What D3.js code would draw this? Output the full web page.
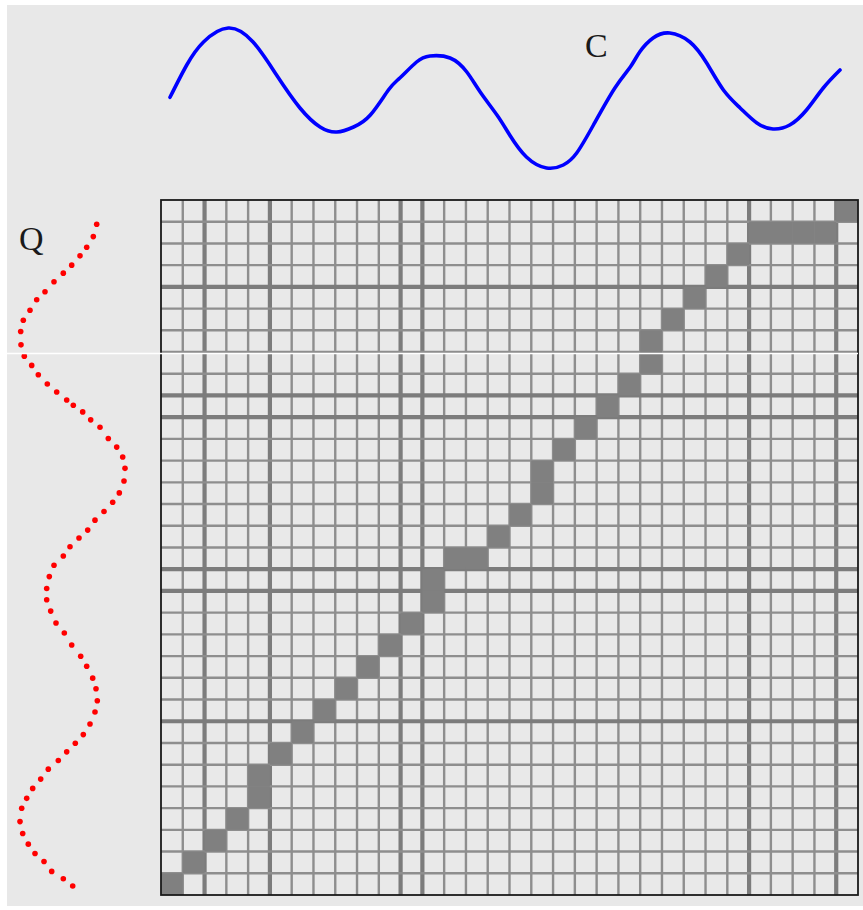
<!DOCTYPE html>
<html>
<head>
<meta charset="utf-8">
<script src="https://cdn.jsdelivr.net/npm/d3@7"></script>
<style>
  html, body { margin: 0; padding: 0; background: #ffffff; }
  svg { display: block; }
</style>
</head>
<body>
<svg id="chart" width="863" height="910"></svg>
<script>
// ---- Data ----
// Series C (top, blue): time index and amplitude
const cTime = [0, 2.5, 5, 8.7, 12.4, 15.9, 19.4, 22.4, 24.9, 27.4, 29.9, 32.6, 34.3, 36.8, 38.8,
  41.8, 44.3, 46.3, 48.8, 50.7, 53.2, 56.2, 58.7, 60.7, 63.2, 66.4, 68.7, 70.1, 72.1, 74.6,
  77.6, 80.1, 82.6, 85.1, 87.6, 90, 92.5, 95, 97.5, 100];
const cValue = [1.7, 34, 57, 71, 57, 24, -9, -28, -33, -28, -16, 9, 21, 37, 43,
  41, 27, 7, -16, -36, -58, -69, -66, -54, -26, 11, 32, 47, 61, 66,
  57, 36, 9, -9, -24, -30, -26, -11, 11, 29];

// Series Q (left, red dotted): time index and amplitude
const qTime = [0.35, 2.2, 3.8, 5.1, 6.5, 7.7, 9.0, 10.5, 11.7, 13.3, 14.8, 16.5, 18.5, 20.2, 21.6,
  23.0, 24.4, 25.6, 26.8, 27.6, 28.6, 29.8, 30.9, 32.6, 33.9, 35.4, 37.1, 39.0, 40.8, 42.2,
  43.6, 44.9, 46.4, 47.6, 48.9, 50.3, 51.7, 53.4, 55.2, 56.9, 58.6, 60.4, 61.9, 63.7, 65.4,
  66.9, 68.7, 70.3, 72.1, 73.8, 75.6, 77.2, 78.5, 79.8, 81.1, 82.4, 83.9, 85.3, 86.8, 88.3,
  90.3, 92.1, 93.7, 95.1, 96.3, 97.8, 98.9, 100];
const qValue = [26.7, 23.3, 16.7, 10, 1.7, -6.7, -16, -25, -33.3, -40, -46.7, -49.3, -49, -45.7, -38.3,
  -31.7, -22.7, -13.3, -3.3, 3.3, 12.7, 20.7, 30, 38.3, 46.7, 52.7, 55, 54, 49.3, 42.7,
  34, 25, 17.7, 9, 0, -6.7, -16, -20.7, -23.3, -23.3, -19.3, -14, -5.7, 1.7, 10.7,
  16.7, 22.7, 26, 27.3, 25, 20, 13.3, 5.3, -3.3, -11.7, -21.7, -29.3, -37.3, -43.3, -48.3,
  -50, -47.3, -41.7, -35, -26, -18.3, -6.7, 2.7];

// Warping matrix: 32 x 32 cells; warping path as (column, row-from-bottom)
const nCols = 32;
const nRows = 32;
const pathCols = [0, 1, 2, 3, 4, 4, 5, 6, 7, 8, 9, 10, 11, 12, 12, 13, 14, 15, 16, 17, 17, 18,
  19, 20, 21, 22, 22, 23, 24, 25, 26, 27, 28, 29, 30, 31];
const pathRows = [0, 1, 2, 3, 4, 5, 6, 7, 8, 9, 10, 11, 12, 13, 14, 15, 15, 16, 17, 18, 19, 20,
  21, 22, 23, 24, 25, 26, 27, 28, 29, 30, 30, 30, 30, 31];
// grid boundaries drawn heavier (vertical: from left; horizontal: from bottom)
const heavyCols = [2, 5, 11, 12, 27, 31];
const heavyRows = [28, 23, 22, 15, 14, 8];

const labelC = "C";
const labelQ = "Q";

// ---- Drawing ----
const svg = d3.select("#chart");

svg.append("rect").attr("x", 7).attr("y", 5).attr("width", 856).attr("height", 901)
  .attr("fill", "#e8e8e8");

const col = d3.scaleBand().domain(d3.range(nCols)).range([161, 858]);
const row = d3.scaleBand().domain(d3.range(nRows)).range([895, 200]);

const gGrid = svg.append("g");
gGrid.append("rect").attr("x", 161).attr("y", 200).attr("width", 697).attr("height", 695)
  .attr("fill", "#e9e9e9");

const colBounds = d3.range(nCols + 1).map(k => col.range()[0] + k * col.step());
const rowBounds = d3.range(nRows + 1).map(k => row.range()[0] - k * row.step());

gGrid.selectAll("line.v").data(d3.range(1, nCols)).join("line")
  .attr("class", "v")
  .attr("x1", k => colBounds[k]).attr("x2", k => colBounds[k])
  .attr("y1", 200).attr("y2", 895)
  .attr("stroke", k => heavyCols.includes(k) ? "#7c7c7c" : "#8e8e8e")
  .attr("stroke-width", k => heavyCols.includes(k) ? 4.2 : 2.4);

gGrid.selectAll("line.h").data(d3.range(1, nRows)).join("line")
  .attr("class", "h")
  .attr("y1", k => rowBounds[k]).attr("y2", k => rowBounds[k])
  .attr("x1", 161).attr("x2", 858)
  .attr("stroke", k => heavyRows.includes(k) ? "#7c7c7c" : "#8e8e8e")
  .attr("stroke-width", k => heavyRows.includes(k) ? 4.2 : 2.4);

// warping path cells
gGrid.selectAll("rect.cell").data(d3.range(pathCols.length)).join("rect")
  .attr("class", "cell")
  .attr("x", i => col(pathCols[i]))
  .attr("y", i => row(pathRows[i]))
  .attr("width", col.bandwidth())
  .attr("height", row.bandwidth())
  .attr("fill", "#808080");

// border
gGrid.append("rect").attr("x", 161).attr("y", 200).attr("width", 697).attr("height", 695)
  .attr("fill", "none").attr("stroke", "#1a1a1a").attr("stroke-width", 1.8);

// Series C
const cX = d3.scaleLinear().domain([0, 100]).range([170, 840]);
const cY = d3.scaleLinear().domain([-70, 70]).range([169, 29]);
const cLine = d3.line().x(i => cX(cTime[i])).y(i => cY(cValue[i])).curve(d3.curveNatural);
svg.append("path").attr("d", cLine(d3.range(cTime.length)))
  .attr("fill", "none").attr("stroke", "#0000ff").attr("stroke-width", 3.6)
  .attr("stroke-linecap", "round").attr("stroke-linejoin", "round");

// Series Q
const qY = d3.scaleLinear().domain([0, 100]).range([222, 886]);
const qX = d3.scaleLinear().domain([-60, 60]).range([10, 130]);
svg.append("g").selectAll("circle").data(d3.range(qTime.length)).join("circle")
  .attr("cx", i => qX(qValue[i]))
  .attr("cy", i => qY(qTime[i]))
  .attr("r", 2.8)
  .attr("fill", "#ff0000");

// labels
svg.append("text").attr("x", 585).attr("y", 57).text(labelC)
  .attr("font-family", "Liberation Serif, Times New Roman, serif")
  .attr("font-size", 34).attr("fill", "#1a1a1a");
svg.append("text").attr("x", 19).attr("y", 250).text(labelQ)
  .attr("font-family", "Liberation Serif, Times New Roman, serif")
  .attr("font-size", 34).attr("fill", "#1a1a1a");

// thin white scan line across the picture
svg.append("line").attr("x1", 0).attr("x2", 858).attr("y1", 353.5).attr("y2", 353.5)
  .attr("stroke", "#ffffff").attr("stroke-width", 1.5);
</script>
</body>
</html>
